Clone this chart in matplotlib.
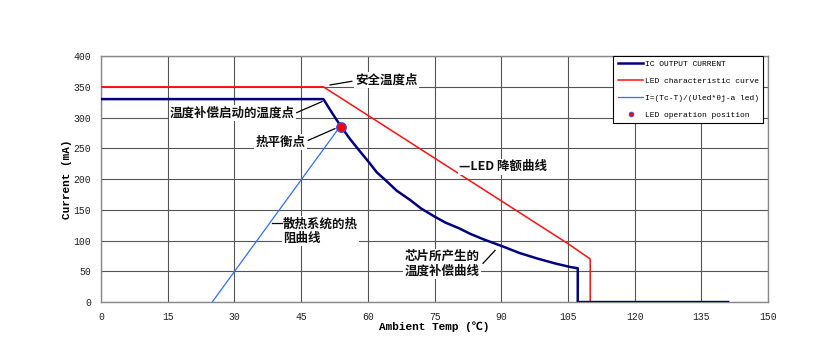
import numpy as np
import matplotlib.pyplot as plt
from matplotlib.lines import Line2D

# 曲线数据
led_temp = [0, 50, 105, 110, 110, 140]
led_curr = [350, 350, 95, 70, 0, 0]

ic_temp = [0, 50, 52, 54, 56, 58, 60.5, 62, 64, 66.5, 69.5, 72, 75, 77.5, 80.5, 83, 86,
           90.5, 94, 98, 102, 105.5, 107.2, 107.2, 141]
ic_curr = [330, 330, 307, 285, 265, 247, 225, 211, 198, 181, 166, 152, 139, 129, 120, 111, 102,
           90, 80, 71, 63, 57, 55, 0, 0]

rth_temp = [25, 54]
rth_curr = [0, 288]

op_temp = [54]
op_curr = [285]

x_ticks = list(range(0, 151, 15))
y_ticks = list(range(0, 401, 50))

legend_labels = ["IC OUTPUT CURRENT", "LED characteristic curve",
                 "I=(Tc-T)/(Uled*θj-a led)", "LED operation position"]

MONO = ['Liberation Mono', 'DejaVu Sans Mono', 'Noto Sans CJK SC']
CJK = ['Noto Sans CJK SC', 'DejaVu Sans']

fig = plt.figure(figsize=(8.18, 3.46), dpi=100)
ax = fig.add_axes([0.1235, 0.127, 0.8155, 0.711])

ax.set_xlim(0, 150)
ax.set_ylim(0, 400)
ax.set_xticks(x_ticks)
ax.set_yticks(y_ticks)
ax.grid(True, color='#555555', linewidth=0.8, zorder=0)
for s in ax.spines.values():
    s.set_color('#888888')
    s.set_linewidth(1.0)
ax.tick_params(length=0, pad=7, labelsize=7)
for lab in ax.get_xticklabels() + ax.get_yticklabels():
    lab.set_family(MONO)
    lab.set_color('#222222')

ax.set_xlabel('Ambient Temp (℃)', family=MONO, fontsize=8, fontweight='bold', labelpad=0)
ax.set_ylabel('Current (mA)', family=MONO, fontsize=8, fontweight='bold', labelpad=1)

ax.plot(led_temp, led_curr, color='#ff1010', lw=1.1, zorder=3)
ax.plot(ic_temp, ic_curr, color='#000080', lw=1.8, zorder=3)
ax.plot(rth_temp, rth_curr, color='#2f6fff', lw=0.9, zorder=3)
ax.plot(op_temp, op_curr, 'o', color='#ff0000', markeredgecolor='#3050ff',
        markeredgewidth=0.8, markersize=7, zorder=5)

# 注释文字
box = dict(facecolor='white', edgecolor='none', pad=1.0)
tk = dict(fontsize=9, family=CJK, fontweight='bold', color='#111111', zorder=4)
lk = dict(color='black', lw=0.9, zorder=4)

ax.text(57.2, 361, '安全温度点', ha='left', va='center', bbox=box, **tk)
ax.plot([51.5, 56.4], [353, 359], **lk)

ax.text(43.6, 307, '温度补偿启动的温度点', ha='right', va='center', bbox=box, **tk)
ax.plot([44.0, 49.7], [308, 326], **lk)

ax.text(46.0, 260, '热平衡点', ha='right', va='center', bbox=box, **tk)
ax.plot([46.6, 52.6], [263, 282], **lk)

ax.text(80.6, 220, '—LED 降额曲线', ha='left', va='center', bbox=box, **tk)

ax.text(40.9, 115, '散热系统的热\n阻曲线', ha='left', va='center', bbox=box,
        linespacing=1.15, **tk)
ax.plot([38.4, 40.7], [128, 128], **lk)

ax.text(68.3, 62, '芯片所产生的\n温度补偿曲线', ha='left', va='center', bbox=box,
        linespacing=1.15, **tk)
ax.plot([85.9, 88.6], [63, 84], **lk)

handles = [
    Line2D([], [], color='#000080', lw=1.8),
    Line2D([], [], color='#ff1010', lw=1.1),
    Line2D([], [], color='#2f6fff', lw=0.9),
    Line2D([], [], ls='none', marker='o', color='#ff0000', markeredgecolor='#3050ff',
           markeredgewidth=0.5, markersize=3.5),
]
leg = ax.legend(handles, legend_labels, loc='upper right', bbox_to_anchor=(0.9925, 1.0),
                borderaxespad=0, prop={'family': MONO, 'size': 5.8},
                handlelength=3.2, handletextpad=0.15, borderpad=0.55, labelspacing=1.15,
                fancybox=False, framealpha=1, edgecolor='black')
leg.get_frame().set_linewidth(0.8)
leg.set_zorder(6)

fig.savefig('out.png', dpi=100)
